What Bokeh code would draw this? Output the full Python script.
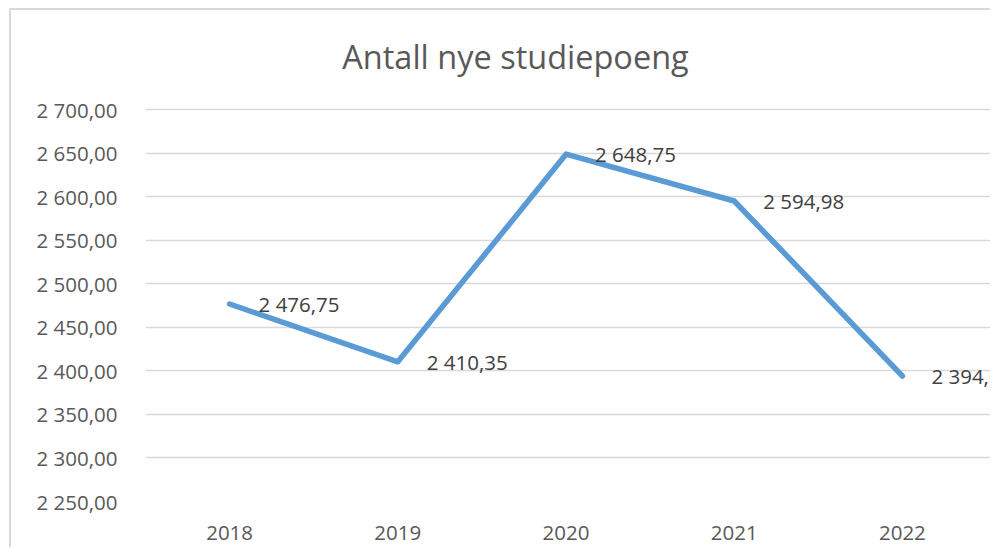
from bokeh.plotting import figure
from bokeh.models import Range1d, FixedTicker, ColumnDataSource, LabelSet, Label
from bokeh.core.properties import value
from bokeh.embed import file_html
from bokeh.resources import INLINE

# ---- data ----
years = ["2018", "2019", "2020", "2021", "2022"]
values = [2476.75, 2410.35, 2648.75, 2594.98, 2394.08]
value_labels = ["2 476,75", "2 410,35", "2 648,75", "2 594,98", "2 394,08"]
y_ticks = [2250, 2300, 2350, 2400, 2450, 2500, 2550, 2600, 2650, 2700]
y_tick_labels = ["2 250,00", "2 300,00", "2 350,00", "2 400,00", "2 450,00",
                 "2 500,00", "2 550,00", "2 600,00", "2 650,00", "2 700,00"]
title_text = "Antall nye studiepoeng"

x_pos = [i + 0.5 for i in range(len(years))]

FONT = "Open Sans"
GRAY = "#595959"

# layout (pixels): plot area 841 x 392 for the data; the frame is extended upward
# (room for the title) and rightward (room for the last data label)
W, H = 981, 539
LEFT, BOTTOM = 134, 48
PLOT_W, PLOT_H = 841, 392
frame_w = W - LEFT
frame_h = H - BOTTOM
y0, y1 = y_ticks[0], y_ticks[-1]
y_end = y0 + (y1 - y0) * frame_h / PLOT_H
x_end = len(years) * frame_w / PLOT_W

p = figure(width=W, height=H, output_backend="svg", toolbar_location=None,
           x_range=Range1d(0, x_end), y_range=Range1d(y0, y_end),
           min_border_left=LEFT, min_border_right=0, min_border_top=0, min_border_bottom=BOTTOM,
           background_fill_color="white", border_fill_color="white")
p.margin = (8, 0, 0, 9)
p.styles = {"border-left": "2px solid #D9D9D9", "border-top": "2px solid #D9D9D9"}
p.outline_line_color = None

# axes
p.xaxis.ticker = FixedTicker(ticks=x_pos)
p.xaxis.major_label_overrides = {x: y for x, y in zip(x_pos, years)}
p.yaxis.ticker = FixedTicker(ticks=y_ticks)
p.yaxis.major_label_overrides = {t: l for t, l in zip(y_ticks, y_tick_labels)}
for ax in (p.xaxis, p.yaxis):
    ax.axis_line_color = None
    ax.major_tick_line_color = None
    ax.minor_tick_line_color = None
    ax.major_tick_out = 0
    ax.major_tick_in = 0
    ax.major_label_text_font = FONT
    ax.major_label_text_font_size = "20.5px"
    ax.major_label_text_color = GRAY
p.yaxis.major_label_standoff = 28
p.xaxis.major_label_standoff = 24

p.xgrid.grid_line_color = None
p.ygrid.grid_line_color = "#D9D9D9"
p.ygrid.grid_line_width = 1.5

# line
src = ColumnDataSource(dict(x=x_pos, y=values, label=value_labels))
p.line("x", "y", source=src, line_color="#5B9BD5", line_width=5.5,
       line_join="round", line_cap="round")

labels = LabelSet(x="x", y="y", text="label", source=src, x_offset=29, y_offset=0,
                  text_font=value(FONT), text_font_size=value("20.5px"),
                  text_color="#404040", text_align="left", text_baseline="middle")
p.add_layout(labels)

# chart title (screen units, relative to the frame's lower-left corner)
title = Label(x=370, y=445, x_units="screen", y_units="screen", text=title_text,
              text_font=FONT, text_font_size="32.5px", text_color=GRAY,
              text_align="center", text_baseline="middle")
p.add_layout(title)

open("out.html", "w").write(file_html(p, INLINE))
